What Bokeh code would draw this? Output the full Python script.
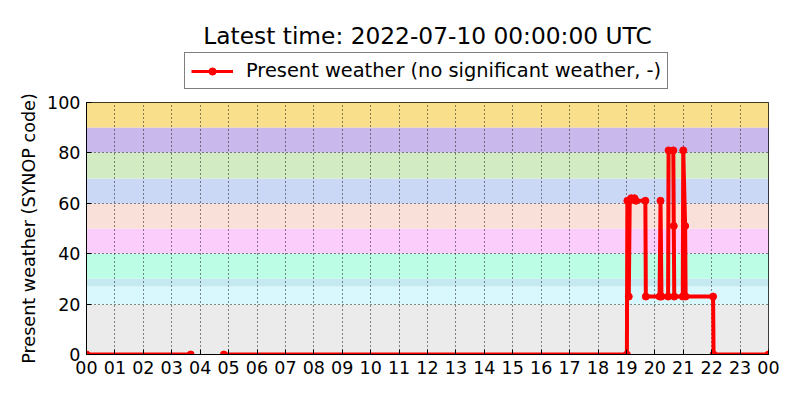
import numpy as np
from bokeh.plotting import figure
from bokeh.layouts import column
from bokeh.models import (Legend, LegendItem, Label, FixedTicker, ColumnDataSource, Range1d)
from bokeh.embed import file_html
from bokeh.resources import INLINE

FONT = "DejaVu Sans"

title_text = "Latest time: 2022-07-10 00:00:00 UTC"
series_label = "Present weather (no significant weather, -)"
y_label = "Present weather (SYNOP code)"

# observation times (HH:MM, "24:00" = following midnight) and SYNOP codes; None = missing data
obs_time = ["00:00", "03:40", None, "04:50", "19:01", "19:02", "19:05", "19:07",
            "19:10", "19:17", "19:20", "19:40", "19:41", "20:10", "20:12", "20:14",
            "20:28", "20:29", "20:39", "20:40", "20:41", "20:59", "21:00", "21:04",
            "21:05", "22:03", "22:04", "24:00"]
obs_code = [0, 0, None, 0, 0, 61, 23, 61,
            62, 62, 61, 61, 23, 23, 61, 23,
            23, 81, 81, 51, 23, 23, 81, 51,
            23, 23, 0, 0]

# SYNOP code bands (background)
band_lo = [0, 20, 27, 30, 40, 50, 60, 70, 80, 90]
band_hi = [20, 27, 30, 40, 50, 60, 70, 80, 90, 100]
band_color = ["#ebebeb", "#d9f8fd", "#c4e9f1", "#bcfde5", "#fbcdfb",
              "#f9e0d8", "#cad7f5", "#d3ebc2", "#c9b8ec", "#f9df8b"]

x_ticks = list(range(25))
x_tick_labels = ["00", "01", "02", "03", "04", "05", "06", "07", "08", "09", "10", "11",
                 "12", "13", "14", "15", "16", "17", "18", "19", "20", "21", "22", "23", "00"]
y_ticks = [0, 20, 40, 60, 80, 100]


def to_hours(t):
    if t is None:
        return np.nan
    h, m = t.split(":")
    return int(h) + int(m) / 60.0


xs = [to_hours(t) for t in obs_time]
ys = [np.nan if v is None else v for v in obs_code]
src = ColumnDataSource(data=dict(x=xs, y=ys))

LINE_COLOR = "#ff0000"
TOTAL_W = 784
HEAD_H = 90
TICK_FS = "17.5px"
LABEL_FS = "19.4px"
YLABEL_FS = "17.6px"

# ---------------- header: title + legend ----------------
head = figure(width=TOTAL_W, height=HEAD_H, x_range=Range1d(0, 1), y_range=Range1d(0, 1),
              x_axis_type=None, y_axis_type=None, min_border=0,
              output_backend="svg", toolbar_location=None,
              background_fill_color="white", border_fill_color="white")
head.outline_line_color = None
head.grid.visible = False

# legend glyph samples (no visible data: NaN point)
leg_src = ColumnDataSource(data=dict(x=[np.nan], y=[np.nan]))
leg_line = head.line("x", "y", source=leg_src, line_color=LINE_COLOR, line_width=3)
leg_dot = head.scatter("x", "y", source=leg_src, size=5, fill_color=LINE_COLOR, line_color=LINE_COLOR)

legend = Legend(items=[LegendItem(label=series_label, renderers=[leg_line, leg_dot])],
                location=(98, 1), orientation="vertical",
                label_text_font=FONT, label_text_font_size=LABEL_FS, label_text_color="black",
                glyph_width=42, glyph_height=18, label_height=18, label_standoff=13,
                padding=6, margin=0, spacing=0,
                border_line_color="black", border_line_width=1,
                background_fill_color="white", background_fill_alpha=1.0)
head.add_layout(legend)

title = Label(x=341, y=HEAD_H - 35, x_units="screen", y_units="screen", text=title_text,
              text_align="center", text_baseline="middle",
              text_font=FONT, text_font_size="23.3px", text_color="black")
head.add_layout(title)

# ---------------- main plot ----------------
p = figure(frame_width=682, frame_height=252,
           min_border_left=86, min_border_right=16, min_border_top=12, min_border_bottom=30,
           x_range=Range1d(0, 24), y_range=Range1d(0, 100),
           output_backend="svg", toolbar_location=None,
           background_fill_color="white", border_fill_color="white")
p.outline_line_color = "black"
p.outline_line_width = 1

p.hstrip(y0=band_lo, y1=band_hi, fill_color=band_color, line_color=None, level="image")

p.line("x", "y", source=src, line_color=LINE_COLOR, line_width=4)
p.scatter("x", "y", source=src, size=7, fill_color=LINE_COLOR, line_color=LINE_COLOR)

for ax in (p.xaxis[0], p.yaxis[0]):
    ax.major_tick_in = 5
    ax.major_tick_out = 0
    ax.minor_tick_line_color = None
    ax.axis_line_color = "black"
    ax.major_label_text_font = FONT
    ax.major_label_text_font_size = TICK_FS
    ax.major_label_text_color = "black"
    ax.major_label_standoff = 6

p.xaxis.ticker = FixedTicker(ticks=x_ticks)
p.xaxis.major_label_overrides = {t: lab for t, lab in zip(x_ticks, x_tick_labels)}
p.yaxis.ticker = FixedTicker(ticks=y_ticks)
p.yaxis.axis_label = y_label
p.yaxis.axis_label_text_font = FONT
p.yaxis.axis_label_text_font_size = YLABEL_FS
p.yaxis.axis_label_text_font_style = "normal"
p.yaxis.axis_label_text_color = "black"
p.yaxis.axis_label_standoff = 5

p.xgrid.ticker = FixedTicker(ticks=x_ticks)
p.ygrid.ticker = FixedTicker(ticks=y_ticks)
for g in (p.xgrid[0], p.ygrid[0]):
    g.grid_line_color = "black"
    g.grid_line_dash = "1 3"
    g.grid_line_width = 1
    g.grid_line_alpha = 0.9

layout = column(head, p, spacing=0)
open("out.html", "w").write(file_html(layout, INLINE))
